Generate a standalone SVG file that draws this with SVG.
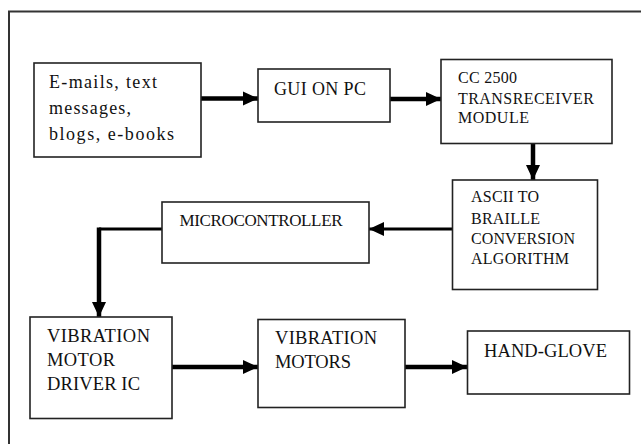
<svg xmlns="http://www.w3.org/2000/svg" width="641" height="444" viewBox="0 0 641 444">
<defs>
<marker id="ah" markerUnits="userSpaceOnUse" markerWidth="16" markerHeight="16" viewBox="0 0 16 16" refX="15" refY="8" orient="auto">
<path d="M0,1 L15,8 L0,15 Z" fill="#000"/>
</marker>
</defs>
<style>
.box{fill:#fff;stroke:#222;stroke-width:1.6}
text{font-family:"Liberation Serif",serif;fill:#111}
.c{fill:none;stroke:#000;stroke-width:4.5}
.thin{fill:none;stroke:#000;stroke-width:3}
</style>
<rect x="0" y="0" width="641" height="444" fill="#fff"/>
<rect x="9" y="11.5" width="700" height="500" fill="none" stroke="#333" stroke-width="2"/>

<g id="connectors">
<path class="c" d="M201,98.5 H258" marker-end="url(#ah)"/>
<path class="c" d="M390,99 H441" marker-end="url(#ah)"/>
<path class="c" d="M533,143 V180" marker-end="url(#ah)"/>
<path class="thin" d="M452,229 H369" marker-end="url(#ah)"/>
<path class="thin" d="M162,229 H99"/>
<path class="c" d="M99,227.5 V317" marker-end="url(#ah)"/>
<path class="c" d="M172,367 H258" marker-end="url(#ah)"/>
<path class="c" d="M405,367 H467" marker-end="url(#ah)"/>
</g>

<g id="n-sources">
<rect class="box" x="34" y="63" width="167" height="94"/>
<text font-size="18"><tspan x="49" y="88" textLength="108" lengthAdjust="spacing">E-mails, text</tspan><tspan x="49" y="113.5" textLength="82" lengthAdjust="spacing">messages,</tspan><tspan x="49" y="139.5" textLength="125" lengthAdjust="spacing">blogs, e-books</tspan></text>
</g>

<g id="n-gui">
<rect class="box" x="258" y="69" width="132" height="53"/>
<text font-size="18" x="274" y="94.5" textLength="92" lengthAdjust="spacing">GUI ON PC</text>
</g>

<g id="n-cc2500">
<rect class="box" x="441" y="59.5" width="171" height="84"/>
<text font-size="16"><tspan x="458" y="82.5" textLength="59" lengthAdjust="spacing">CC 2500</tspan><tspan x="458" y="103.5" textLength="136" lengthAdjust="spacing">TRANSRECEIVER</tspan><tspan x="458" y="122.5" textLength="71" lengthAdjust="spacing">MODULE</tspan></text>
</g>

<g id="n-ascii">
<rect class="box" x="452.5" y="180" width="145" height="109.5"/>
<text font-size="16"><tspan x="471" y="201.5" textLength="68" lengthAdjust="spacing">ASCII TO</tspan><tspan x="471" y="224" textLength="69" lengthAdjust="spacing">BRAILLE</tspan><tspan x="471" y="244" textLength="104" lengthAdjust="spacing">CONVERSION</tspan><tspan x="471" y="263.5" textLength="98" lengthAdjust="spacing">ALGORITHM</tspan></text>
</g>

<g id="n-micro">
<rect class="box" x="162" y="202" width="207" height="61"/>
<text font-size="17" x="179.5" y="225.5" textLength="163" lengthAdjust="spacing">MICROCONTROLLER</text>
</g>

<g id="n-driver">
<rect class="box" x="30" y="317" width="142" height="101.5"/>
<text font-size="18.5"><tspan x="47" y="341.5" textLength="103" lengthAdjust="spacing">VIBRATION</tspan><tspan x="47" y="365.5" textLength="68" lengthAdjust="spacing">MOTOR</tspan><tspan x="47" y="389.5" textLength="93" lengthAdjust="spacing">DRIVER IC</tspan></text>
</g>

<g id="n-motors">
<rect class="box" x="258" y="319.5" width="147" height="88"/>
<text font-size="18.5"><tspan x="275" y="343.5" textLength="102" lengthAdjust="spacing">VIBRATION</tspan><tspan x="275" y="367.5" textLength="76" lengthAdjust="spacing">MOTORS</tspan></text>
</g>

<g id="n-glove">
<rect class="box" x="467.5" y="331" width="162" height="63"/>
<text font-size="18.5" x="484" y="356.5" textLength="123" lengthAdjust="spacing">HAND-GLOVE</text>
</g>
</svg>
